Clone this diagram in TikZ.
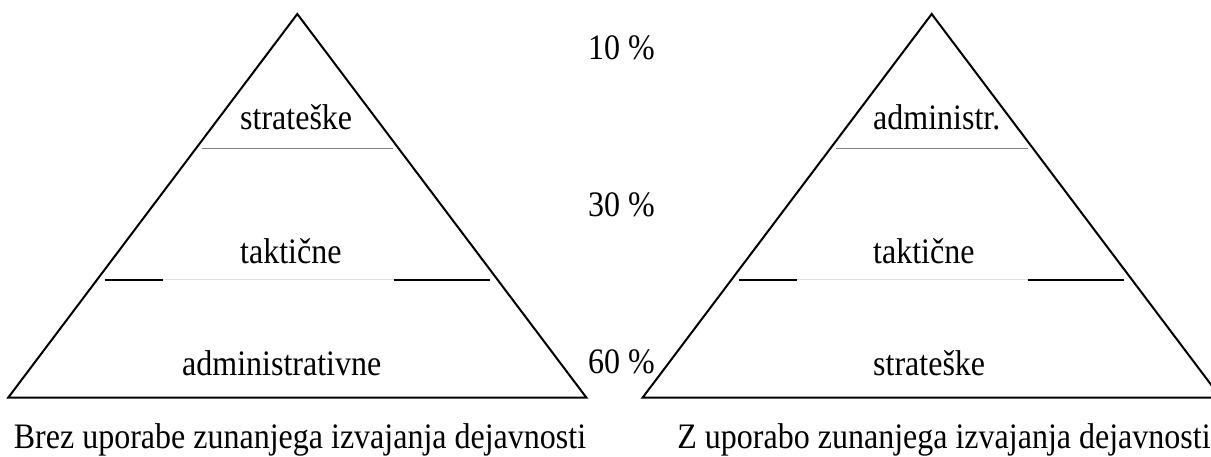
\documentclass[tikz,border=0pt]{standalone}
\usepackage{fontspec}
\setmainfont{Liberation Serif}
\newcommand{\tallt}[1]{\scalebox{1}[1.12]{#1}}
\begin{document}
\begin{tikzpicture}[x=1pt,y=-1pt,
  lbl/.style={anchor=base west,inner sep=0pt,font=\fontsize{32}{38}\selectfont},
  captxt/.style={anchor=base,inner sep=0pt,font=\fontsize{32}{38}\selectfont},
  tri/.style={line width=2pt,line join=miter},
  blk/.style={line width=2.6pt},
  thinl/.style={line width=1pt,draw=black!50},
  faint/.style={line width=1pt,draw=black!12}]
\useasboundingbox (0,0) rectangle (1211,457);
\clip (0,0) rectangle (1211,457);
% left pyramid
\coordinate (LA) at (297.3,14);
\coordinate (LB) at (8.3,397.5);
\coordinate (LC) at (586.3,397.5);
\draw[tri] (LA) -- (LB) -- (LC) -- cycle;
\coordinate (LU1) at (201.7,148.3);
\coordinate (LU2) at (393.3,148.3);
\draw[thinl] (LU1) -- (LU2);
\coordinate (LL1) at (105,280);
\coordinate (LL2) at (162.7,280);
\coordinate (LL3) at (394,280);
\coordinate (LL4) at (490,280);
\draw[blk] (LL1) -- (LL2);
\draw[faint] (LL2) -- (LL3);
\draw[blk] (LL3) -- (LL4);
\node[lbl] (l1) at (240,129.5) {\tallt{strateške}};
\node[lbl] (l2) at (240,263.5) {\tallt{taktične}};
\node[lbl] (l3) at (182,375) {\tallt{administrativne}};
\node[captxt] (lc) at (300,448) {\tallt{Brez uporabe zunanjega izvajanja dejavnosti}};
% percentages
\node[lbl] (p1) at (588,60) {\tallt{10 \%}};
\node[lbl] (p2) at (588,216.7) {\tallt{30 \%}};
\node[lbl] (p3) at (588,373) {\tallt{60 \%}};
% right pyramid
\coordinate (RA) at (931.7,14);
\coordinate (RB) at (642.7,397.5);
\coordinate (RC) at (1220.7,397.5);
\draw[tri] (RA) -- (RB) -- (RC) -- cycle;
\coordinate (RU1) at (836.1,148.3);
\coordinate (RU2) at (1027.7,148.3);
\draw[thinl] (RU1) -- (RU2);
\coordinate (RL1) at (739.4,280);
\coordinate (RL2) at (797.1,280);
\coordinate (RL3) at (1028.4,280);
\coordinate (RL4) at (1124.4,280);
\draw[blk] (RL1) -- (RL2);
\draw[faint] (RL2) -- (RL3);
\draw[blk] (RL3) -- (RL4);
\node[lbl] (r1) at (873,129.5) {\tallt{administr.}};
\node[lbl] (r2) at (873,263.5) {\tallt{taktične}};
\node[lbl] (r3) at (873,375) {\tallt{strateške}};
\node[captxt] (rc) at (944,448) {\tallt{Z uporabo zunanjega izvajanja dejavnosti}};
\end{tikzpicture}
\end{document}
